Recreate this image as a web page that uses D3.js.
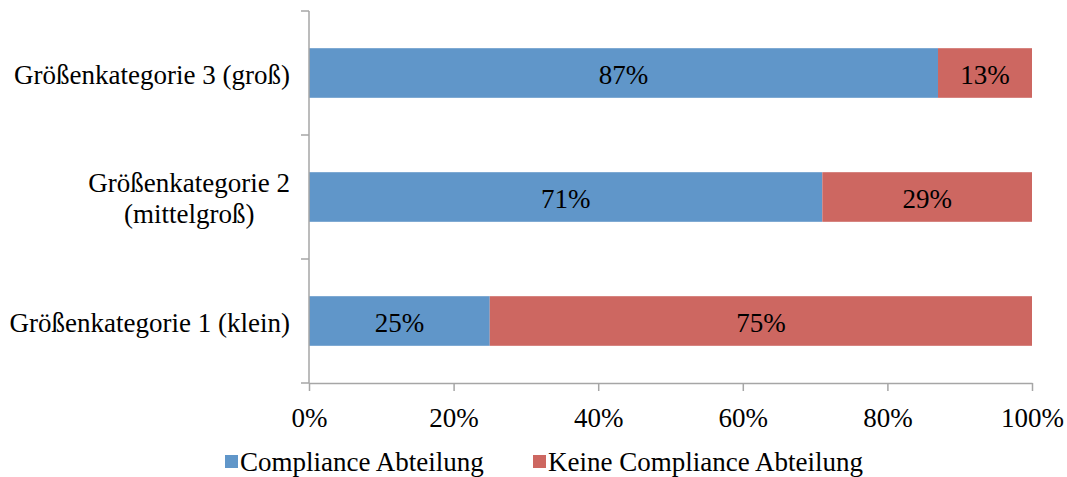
<!DOCTYPE html>
<html>
<head>
<meta charset="utf-8">
<script src="https://cdn.jsdelivr.net/npm/d3@7"></script>
<style>
  html, body { margin: 0; padding: 0; background: #fff; }
  svg { display: block; font-family: "Liberation Serif", "Times New Roman", serif; }
</style>
</head>
<body>
<svg id="chart" width="1067" height="477"></svg>
<script>
// Categories listed top to bottom, each label split into its display lines
const categories = [
  ["Größenkategorie 3 (groß)"],
  ["Größenkategorie 2", "(mittelgroß)"],
  ["Größenkategorie 1 (klein)"]
];
const compliance = [87, 71, 25];
const noCompliance = [13, 29, 75];
const seriesNames = ["Compliance Abteilung", "Keine Compliance Abteilung"];
const seriesColors = ["#6096c9", "#cd6761"];
const xTicks = [0, 20, 40, 60, 80, 100];

(function () {
const svg = d3.select("#chart");
const plotLeft = 309, plotRight = 1032, plotTop = 11, plotBottom = 383;
const fontSize = 27;
const baselineShift = 10.5;
const axisColor = "#a6a6a6";

const x = d3.scaleLinear().domain([0, 100]).range([plotLeft, plotRight]);
const y = d3.scaleBand().domain(d3.range(categories.length)).range([plotTop, plotBottom]).paddingInner(0.6).paddingOuter(0.3);
const yBounds = d3.range(categories.length + 1).map(i => plotTop + i * (plotBottom - plotTop) / categories.length);

// Stacked series
const rows = categories.map((c, i) => ({ i, a: compliance[i], b: noCompliance[i] }));
const stack = d3.stack().keys(["a", "b"])(rows);

stack.forEach((layer, k) => {
  const g = svg.append("g");
  g.selectAll("rect").data(layer).join("rect")
    .attr("x", d => x(d[0]))
    .attr("width", d => x(d[1]) - x(d[0]))
    .attr("y", d => y(d.data.i))
    .attr("height", y.bandwidth())
    .attr("fill", seriesColors[k]);
  g.selectAll("text").data(layer).join("text")
    .attr("x", d => (x(d[0]) + x(d[1])) / 2)
    .attr("y", d => y(d.data.i) + y.bandwidth() / 2 + baselineShift)
    .attr("text-anchor", "middle")
    .attr("font-size", fontSize)
    .attr("fill", "#000")
    .text(d => (d[1] - d[0]) + "%");
});

// Value axis
const xAxis = svg.append("g").attr("transform", `translate(0,${plotBottom})`)
  .call(d3.axisBottom(x).tickValues(xTicks).tickSize(8).tickSizeOuter(0).tickFormat(d => d + "%"));
xAxis.select(".domain").attr("stroke", axisColor).attr("stroke-width", 1.5);
xAxis.selectAll(".tick line").attr("stroke", axisColor).attr("stroke-width", 1.5);
xAxis.selectAll(".tick text").attr("font-size", fontSize).attr("font-family", "Liberation Serif")
  .attr("fill", "#000").attr("y", 44).attr("dy", 0);

// Category axis with tick marks at band boundaries
svg.append("line").attr("x1", plotLeft).attr("x2", plotLeft).attr("y1", plotTop).attr("y2", plotBottom)
  .attr("stroke", axisColor).attr("stroke-width", 1.5);
svg.selectAll(".ytick").data(yBounds).join("line")
  .attr("x1", plotLeft - 8).attr("x2", plotLeft).attr("y1", d => d).attr("y2", d => d)
  .attr("stroke", axisColor).attr("stroke-width", 1.5);

// Category labels: lines centred on each other, block right-aligned to the axis
categories.forEach((lines, i) => {
  const cy = y(i) + y.bandwidth() / 2;
  const lh = 31;
  const g = svg.append("g");
  const texts = lines.map((t, j) => g.append("text")
    .attr("font-size", fontSize).attr("fill", "#000")
    .attr("text-anchor", "middle")
    .attr("y", cy + baselineShift + (j - (lines.length - 1) / 2) * lh)
    .text(t));
  const w = d3.max(texts, t => t.node().getComputedTextLength());
  texts.forEach(t => t.attr("x", 290 - w / 2));
});

// Legend
const legendItems = [{ x: 225 }, { x: 533 }];
legendItems.forEach((it, k) => {
  svg.append("rect").attr("x", it.x).attr("y", 455).attr("width", 13).attr("height", 13).attr("fill", seriesColors[k]);
  svg.append("text").attr("x", it.x + 15).attr("y", 471).attr("font-size", fontSize).attr("fill", "#000").text(seriesNames[k]);
});
})();
</script>
</body>
</html>
